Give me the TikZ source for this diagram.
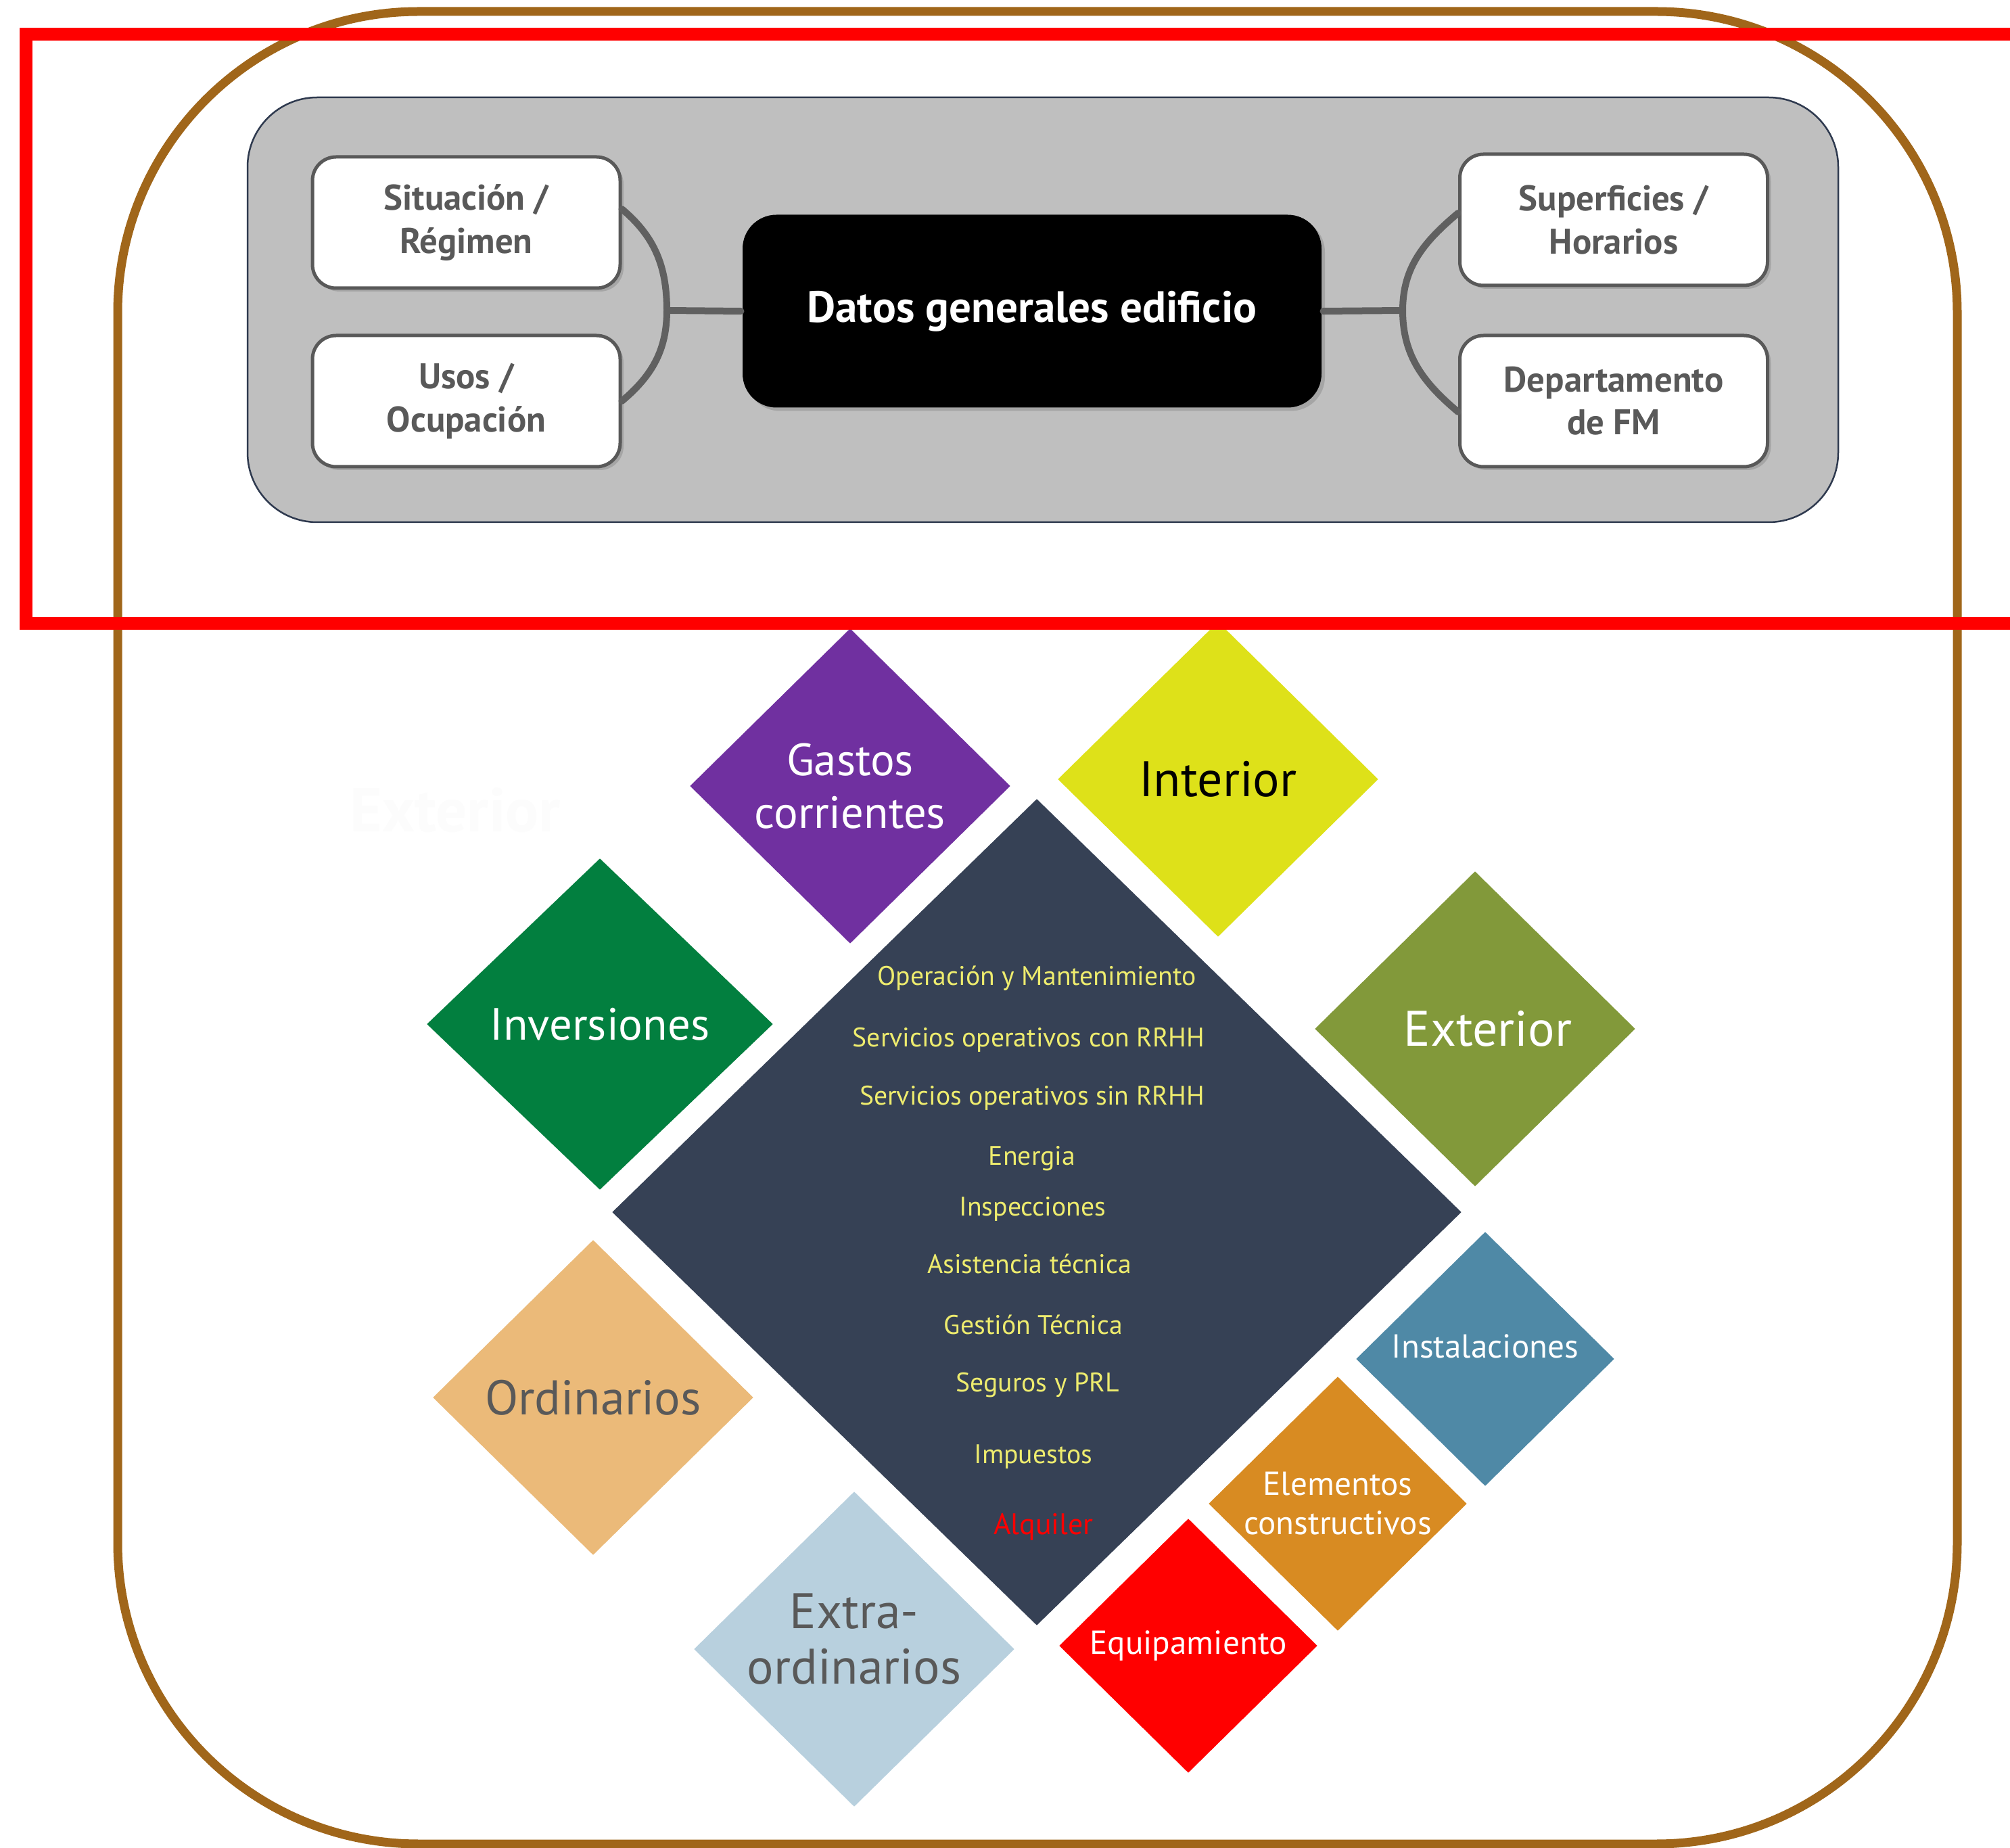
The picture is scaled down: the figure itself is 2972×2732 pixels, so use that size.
\documentclass[tikz,border=0pt]{standalone}
\usepackage{fontspec}
\setmainfont{PT Sans}
\usetikzlibrary{shapes.geometric,shadows}
\definecolor{marron}{HTML}{A0661A}
\definecolor{panelgris}{HTML}{BFBFBF}
\definecolor{panelborde}{HTML}{2F3A4F}
\definecolor{gristexto}{HTML}{595959}
\definecolor{enlacegris}{HTML}{606060}
\definecolor{morado}{HTML}{7030A0}
\definecolor{amarillo}{HTML}{DEE119}
\definecolor{pizarra}{HTML}{364155}
\definecolor{verde}{HTML}{027F3F}
\definecolor{oliva}{HTML}{82993A}
\definecolor{arena}{HTML}{EBBA79}
\definecolor{celeste}{HTML}{B8D0DE}
\definecolor{acero}{HTML}{4F89A6}
\definecolor{naranja}{HTML}{D88B22}
\definecolor{rotulo}{HTML}{EEEC6E}
\begin{document}
\begin{tikzpicture}[x=0.1mm,y=0.1mm,line join=round,line cap=round]
    \tikzset{caja/.style={draw=gristexto,line width=0.5mm,fill=white,rounded corners=3.5mm,minimum width=45.5mm,minimum height=19.4mm,align=center,text=gristexto,font=\fontsize{15}{18}\selectfont\bfseries,drop shadow={shadow xshift=0.5mm,shadow yshift=-0.5mm,opacity=0.4}},
        enlace/.style={draw=enlacegris,line width=1mm},
        rombo/.style={diamond,inner sep=0pt,align=center,minimum width=47.4mm,minimum height=46.6mm,text=white,font=\fontsize{19}{22}\selectfont},
        rombo chico/.style={rombo,minimum width=38.2mm,minimum height=37.6mm,font=\fontsize{14}{16.5}\selectfont},
        partida/.style={anchor=base,text=rotulo,font=\fontsize{11.3}{13.5}\selectfont}}
    \useasboundingbox (0,0) rectangle (2972,-2732);
    \fill[white] (0,0) rectangle (2972,-2732);
    \draw[marron,line width=1.3mm,rounded corners=44.5mm] (174,-17) rectangle (2894,-2726);
    \draw[panelborde,fill=panelgris,line width=0.25mm,rounded corners=10.3mm] (366,-144) rectangle (2718,-772);
    \node[caja] (sit) at (689.5,-329) {Situación /\\Régimen};
    \node[caja] (uso) at (689.5,-593) {Usos /\\Ocupación};
    \node[caja] (sup) at (2386,-325) {Superficies /\\Horarios};
    \node[caja] (dep) at (2386,-593) {Departamento\\de FM};
    \node[caja,fill=black,draw=none,text=white,rounded corners=5mm,minimum width=85.6mm,minimum height=28.5mm,font=\fontsize{18.5}{22}\selectfont\bfseries] (datos) at (1526,-460) {Datos generales edificio};
    \coordinate (jl) at (986,-459);
    \coordinate (jr) at (2074,-459);
    \draw[enlace] ([yshift=2mm]sit.east) to[out=-40,in=90] (jl) to[out=-90,in=40] (uso.east);
    \draw[enlace] ([yshift=1mm]sup.west) to[out=-140,in=90] (jr) to[out=-90,in=140] ([yshift=-1.6mm]dep.west);
    \draw[enlace] (jl) -- (datos.west);
    \draw[enlace] (jr) -- (datos.east);
    \node[text=white!99!black,font=\fontsize{26}{30}\selectfont\bfseries] (fantasma) at (673,-1198) {Exterior};
    \node[rombo,fill=morado] (gastos) at (1257,-1162) {Gastos\\corrientes};
    \node[rombo,fill=amarillo,text=black,font=\fontsize{21}{24}\selectfont] (interior) at (1801,-1152) {Interior};
    \node[rombo,fill=verde,minimum width=51.2mm,minimum height=49mm] (inversiones) at (887,-1514) {Inversiones};
    \node[rombo,fill=oliva,font=\fontsize{21}{24}\selectfont] (exterior) at (2181,-1521) {\hspace*{3.8mm}Exterior};
    \node[rombo,fill=pizarra,minimum width=125.6mm,minimum height=122.2mm] (costes) at (1533,-1792) {};
    \node[rombo,fill=arena,text=gristexto,font=\fontsize{20.5}{24}\selectfont] (ordinarios) at (877,-2066) {Ordinarios};
    \node[rombo,fill=celeste] (extra) at (1263,-2438) {};
    \node[align=center,text=gristexto,font=\fontsize{21}{23.2}\selectfont] (extra texto) at ([yshift=1.5mm]extra) {Extra-\\ordinarios};
    \node[rombo chico,fill=acero] (instalaciones) at (2196,-2009) {Instalaciones\\[-2mm]};
    \node[rombo chico,fill=naranja] (elementos) at (1978,-2223) {Elementos\\constructivos};
    \node[rombo chico,fill=red] (equipamiento) at (1757,-2433) {Equipamiento};
    \foreach \x/\y/\t [count=\i] in {1533/1457/Operación y Mantenimiento,1521/1548/Servicios operativos con RRHH,1526/1633/Servicios operativos sin RRHH,1526/1722/Energia,1527/1797/Inspecciones,1522/1883/Asistencia técnica,1528/1972/Gestión Técnica,1534/2057/Seguros y PRL,1528/2163/Impuestos}
    \node[partida] (p\i) at (\x,-\y) {\t};
    \node[partida,text=red,font=\fontsize{12.5}{15}\selectfont] (alquiler) at (1543,-2268) {Alquiler};
    \draw[red,line width=1.9mm,line join=miter,line cap=butt] (3010,-51) -- (38,-51) -- (38,-922) -- (3010,-922);
\end{tikzpicture}
\end{document}
